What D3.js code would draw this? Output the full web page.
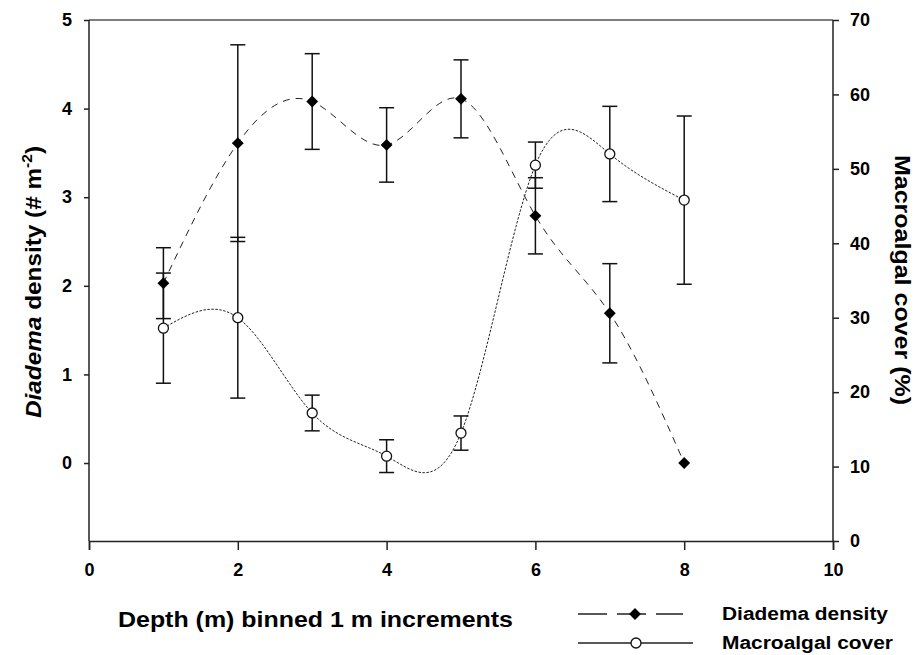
<!DOCTYPE html>
<html>
<head>
<meta charset="utf-8">
<script src="https://cdn.jsdelivr.net/npm/d3@7"></script>
<style>
  body { margin: 0; background: #fff; }
  text { font-family: "Liberation Sans", Arial, sans-serif; font-weight: bold; fill: #000; }
</style>
</head>
<body>
<div id="chart"></div>
<script>
// depth bins and series
var depth = [1, 2, 3, 4, 5, 6, 7, 8];
var density = [2.03, 3.61, 4.08, 3.59, 4.11, 2.79, 1.69, 0.0];
var densityErr = [0.40, 1.11, 0.54, 0.42, 0.44, 0.43, 0.56, 0];
var cover = [28.6, 30.0, 17.2, 11.4, 14.5, 50.5, 52.0, 45.8];
var coverErr = [7.4, 10.8, 2.4, 2.2, 2.3, 3.1, 6.4, 11.3];

var xTicks = [0, 2, 4, 6, 8, 10];
var leftTicks = [0, 1, 2, 3, 4, 5];
var rightTicks = [0, 10, 20, 30, 40, 50, 60, 70];

var width = 921, height = 655;
var mLeft = 89, mRight = 833, mTop = 20, mBottom = 541;

var svg = d3.select("#chart").append("svg")
    .attr("width", width)
    .attr("height", height);

var x = d3.scaleLinear().domain([0, 10]).range([mLeft, mRight]);
var yL = d3.scaleLinear().domain([-0.88, 5]).range([mBottom, mTop]);
var yR = d3.scaleLinear().domain([0, 70]).range([mBottom, mTop]);

// frame top
svg.append("line").attr("x1", mLeft).attr("x2", mRight).attr("y1", mTop).attr("y2", mTop)
    .attr("stroke", "#555").attr("stroke-width", 1.5);

// axes
var fmt = d3.format("d");
var gx = svg.append("g").attr("transform", "translate(0," + mBottom + ")")
    .call(d3.axisBottom(x).tickValues(xTicks).tickFormat(fmt).tickSize(9).tickPadding(13));
var gl = svg.append("g").attr("transform", "translate(" + mLeft + ",0)")
    .call(d3.axisLeft(yL).tickValues(leftTicks).tickFormat(fmt).tickSize(5).tickPadding(12));
var gr = svg.append("g").attr("transform", "translate(" + mRight + ",0)")
    .call(d3.axisRight(yR).tickValues(rightTicks).tickFormat(fmt).tickSize(6).tickPadding(11));

[gx, gl, gr].forEach(function(g) {
  g.attr("font-size", 18).attr("font-family", "Liberation Sans, Arial").attr("font-weight", "bold");
  g.select(".domain").attr("stroke", "#222").attr("stroke-width", 1.5);
  g.selectAll(".tick line").attr("stroke", "#222").attr("stroke-width", 1.5);
});
gl.select(".domain").attr("d", "M0," + mTop + "V" + mBottom);
gr.select(".domain").attr("d", "M0," + mTop + "V" + mBottom);

// curves
var densityLine = d3.line().curve(d3.curveNatural)
    .x(function(d, i) { return x(depth[i]); })
    .y(function(d) { return yL(d); });
var coverLine = d3.line().curve(d3.curveNatural)
    .x(function(d, i) { return x(depth[i]); })
    .y(function(d) { return yR(d); });

svg.append("path").attr("d", densityLine(density))
    .attr("fill", "none").attr("stroke", "#222").attr("stroke-width", 1)
    .attr("stroke-dasharray", "7,6");
svg.append("path").attr("d", coverLine(cover))
    .attr("fill", "none").attr("stroke", "#222").attr("stroke-width", 1)
    .attr("stroke-dasharray", "2.5,1.5");

// error bars
function errBars(vals, errs, scale) {
  var g = svg.append("g");
  vals.forEach(function(v, i) {
    if (!errs[i]) return;
    var cx = x(depth[i]);
    var y1 = scale(v - errs[i]), y2 = scale(v + errs[i]);
    g.append("line").attr("x1", cx).attr("x2", cx).attr("y1", y1).attr("y2", y2)
        .attr("stroke", "#111").attr("stroke-width", 1.5);
    [y1, y2].forEach(function(yy) {
      g.append("line").attr("x1", cx - 7.5).attr("x2", cx + 7.5).attr("y1", yy).attr("y2", yy)
          .attr("stroke", "#111").attr("stroke-width", 1.5);
    });
  });
}
errBars(density, densityErr, yL);
errBars(cover, coverErr, yR);

// markers
var diamond = d3.symbol().type(d3.symbolDiamond2).size(90);
svg.append("g").selectAll("path").data(density).enter().append("path")
    .attr("d", diamond)
    .attr("transform", function(d, i) { return "translate(" + x(depth[i]) + "," + yL(d) + ")"; })
    .attr("fill", "#000");
svg.append("g").selectAll("circle").data(cover).enter().append("circle")
    .attr("cx", function(d, i) { return x(depth[i]); })
    .attr("cy", function(d) { return yR(d); })
    .attr("r", 5)
    .attr("fill", "#fff").attr("stroke", "#111").attr("stroke-width", 1.3);

// axis titles
svg.append("text").attr("x", 118).attr("y", 627)
    .attr("textLength", 395).attr("lengthAdjust", "spacingAndGlyphs")
    .style("font-size", "22px")
    .text("Depth (m) binned 1 m increments");

var yt = svg.append("text")
    .attr("transform", "translate(41,282) rotate(-90)")
    .attr("text-anchor", "middle")
    .attr("textLength", 272).attr("lengthAdjust", "spacingAndGlyphs")
    .style("font-size", "22px");
yt.append("tspan").style("font-style", "italic").text("Diadema");
yt.append("tspan").text(" density (# m");
yt.append("tspan").attr("dy", -9).style("font-size", "14px").text("-2");
yt.append("tspan").attr("dy", 9).text(")");

svg.append("text")
    .attr("transform", "translate(895,280) rotate(90)")
    .attr("text-anchor", "middle")
    .attr("textLength", 250).attr("lengthAdjust", "spacingAndGlyphs")
    .style("font-size", "22px")
    .text("Macroalgal cover (%)");

// legend
var lg = svg.append("g");
lg.append("line").attr("x1", 578).attr("x2", 683).attr("y1", 614).attr("y2", 614)
    .attr("stroke", "#222").attr("stroke-width", 1.3).attr("stroke-dasharray", "29,10");
lg.append("path").attr("d", diamond).attr("transform", "translate(635,614)").attr("fill", "#000");
lg.append("line").attr("x1", 578).attr("x2", 693).attr("y1", 643).attr("y2", 643)
    .attr("stroke", "#222").attr("stroke-width", 1.3);
lg.append("circle").attr("cx", 636).attr("cy", 643).attr("r", 5)
    .attr("fill", "#fff").attr("stroke", "#111").attr("stroke-width", 1.3);
lg.append("text").attr("x", 722).attr("y", 620)
    .attr("textLength", 166).attr("lengthAdjust", "spacingAndGlyphs")
    .style("font-size", "18px").text("Diadema density");
lg.append("text").attr("x", 722).attr("y", 649)
    .attr("textLength", 171).attr("lengthAdjust", "spacingAndGlyphs")
    .style("font-size", "18px").text("Macroalgal cover");
</script>
</body>
</html>
